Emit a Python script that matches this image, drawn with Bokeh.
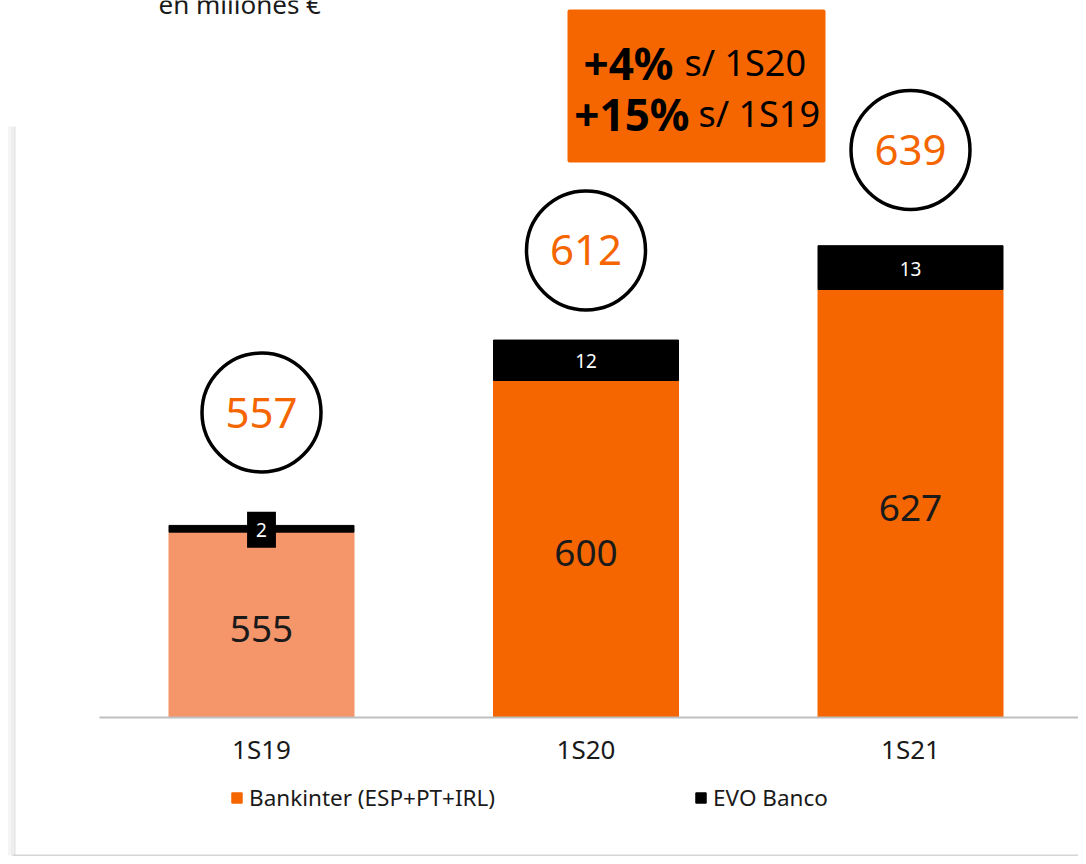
from bokeh.plotting import figure
from bokeh.models import (Range1d, FixedTicker, LinearAxis, ColumnDataSource,
                          Legend, LegendItem)
from bokeh.core.properties import value
from bokeh.embed import file_html
from bokeh.resources import INLINE

# ---------------- data ----------------
categories = ["1S19", "1S20", "1S21"]
bankinter = [555, 600, 627]
evo = [2, 12, 13]
totals = [557, 612, 639]
series_names = ["Bankinter (ESP+PT+IRL)", "EVO Banco"]
unit_note = "en millones €"
growth_pct = ["+4%", "+15%"]
growth_ref = ["s/ 1S20", "s/ 1S19"]

# ---------------- styles ----------------
ORANGE = "#F56600"
LIGHT_ORANGE = "#F4956A"
TEXT = "#1a1a1a"
FONT = "Noto Sans"
bar_colors = [LIGHT_ORANGE, ORANGE, ORANGE]
circle_lift = [33.5, 26.6, 28.4]   # gap between bar top and bubble centre (data units)
Y0 = 500                            # axis baseline value
W, H = 1078, 856

# pixel helpers for decorations (frame covers the whole figure)
PX_X, PX_Y = 324.5, 3.37
def dx(px):
    return (px - 261) / PX_X
def dy(py):
    return Y0 + (717 - py) / PX_Y

xs = list(range(len(categories)))
stack_top = [b + e for b, e in zip(bankinter, evo)]

src = ColumnDataSource(dict(
    x=xs,
    base=[Y0] * len(xs),
    bank=bankinter,
    top=stack_top,
    color=bar_colors,
    bank_mid=[(Y0 + b) / 2 for b in bankinter],
    evo_mid=[b + e / 2 for b, e in zip(bankinter, evo)],
    bubble_y=[t + l for t, l in zip(stack_top, circle_lift)],
    bank_lbl=[str(v) for v in bankinter],
    evo_lbl=[str(v) for v in evo],
    tot_lbl=[str(v) for v in totals],
))

p = figure(width=W, height=H,
           x_range=Range1d(dx(0), dx(W)), y_range=Range1d(dy(H), dy(0)),
           output_backend="svg", toolbar_location=None,
           x_axis_type=None, y_axis_type=None,
           min_border=0, min_border_left=0, min_border_right=0,
           min_border_top=0, min_border_bottom=0)
p.outline_line_color = None
p.xgrid.visible = False
p.ygrid.visible = False
p.background_fill_color = "white"
p.border_fill_color = "white"

# frame decoration (left shadow + bottom rule)
for i, (c, w) in enumerate([("#f5f5f5", 3), ("#ededed", 2), ("#e3e3e3", 2)]):
    xp = 9 + i * 2.5
    p.line([dx(xp), dx(xp)], [dy(126), dy(855)], line_color=c, line_width=w)
p.line([dx(12), dx(W)], [dy(855), dy(855)], line_color="#d6d6d6", line_width=2)

# bars
width = 185 / PX_X
r_bank = p.vbar(x="x", bottom="base", top="bank", width=width,
                fill_color="color", line_color="color", source=src)
r_evo = p.vbar(x="x", bottom="bank", top="top", width=width,
               fill_color="black", line_color="black", source=src)

# labels in bars
p.text(x="x", y="bank_mid", text="bank_lbl", source=src, y_offset=4,
       text_align="center", text_baseline="middle",
       text_font=value(FONT), text_font_size="37px", text_color=TEXT)
p.text(x="x", y="evo_mid", text="evo_lbl", source=src, y_offset=1,
       text_align="center", text_baseline="middle",
       text_font=value(FONT), text_font_size="19px", text_color="white",
       background_fill_color="black", padding=dict(x=9, y=11))

# total bubbles
p.scatter(x="x", y="bubble_y", source=src, marker="circle", size=119,
          fill_color="white", line_color="black", line_width=3.5)
p.text(x="x", y="bubble_y", text="tot_lbl", source=src,
       text_align="center", text_baseline="middle",
       text_font=value(FONT), text_font_size="42px", text_color=ORANGE)

# growth box
p.quad(left=dx(567), right=dx(825), top=dy(9), bottom=dy(162),
       fill_color=ORANGE, line_color=None, border_radius=2)
line_y = [dy(62), dy(113)]
bold_end = [673, 689]
ref_start = [684, 698]
p.text(x=[dx(s) for s in bold_end], y=line_y, text=growth_pct,
       text_align="right", text_baseline="middle",
       text_font=value(FONT), text_font_style="bold",
       text_font_size="44px", text_color="black")
p.text(x=[dx(s) for s in ref_start], y=line_y, text=growth_ref,
       text_align="left", text_baseline="middle",
       text_font=value(FONT), text_font_size="36px", text_color="black")

# unit note (cut at the top, as in the source)
p.text(x=[dx(158)], y=[dy(3)], text=[unit_note],
       text_align="left", text_baseline="alphabetic",
       text_font=value(FONT), text_font_size="26px", text_color=TEXT)

# category axis
ax = LinearAxis(fixed_location=Y0,
                ticker=FixedTicker(ticks=xs),
                major_label_overrides={x: c for x, c in zip(xs, categories)},
                bounds=(dx(99), dx(W)))
ax.axis_line_color = "#BFBFBF"
ax.axis_line_width = 2
ax.major_tick_line_color = None
ax.minor_tick_line_color = None
ax.major_label_standoff = 7
ax.major_label_text_font = FONT
ax.major_label_text_font_size = "26px"
ax.major_label_text_color = TEXT
p.add_layout(ax, "below")

# legend
legend = Legend(items=[LegendItem(label=series_names[0], renderers=[r_bank], index=1),
                       LegendItem(label=series_names[1], renderers=[r_evo], index=1)],
                orientation="horizontal", location=(230, 43),
                glyph_width=13, glyph_height=13, label_standoff=6,
                spacing=199, padding=0, margin=0,
                border_line_color=None, background_fill_alpha=0,
                label_text_font=FONT, label_text_font_size="22.5px",
                label_text_color=TEXT)
p.add_layout(legend)

open("out.html", "w").write(file_html(p, INLINE))
